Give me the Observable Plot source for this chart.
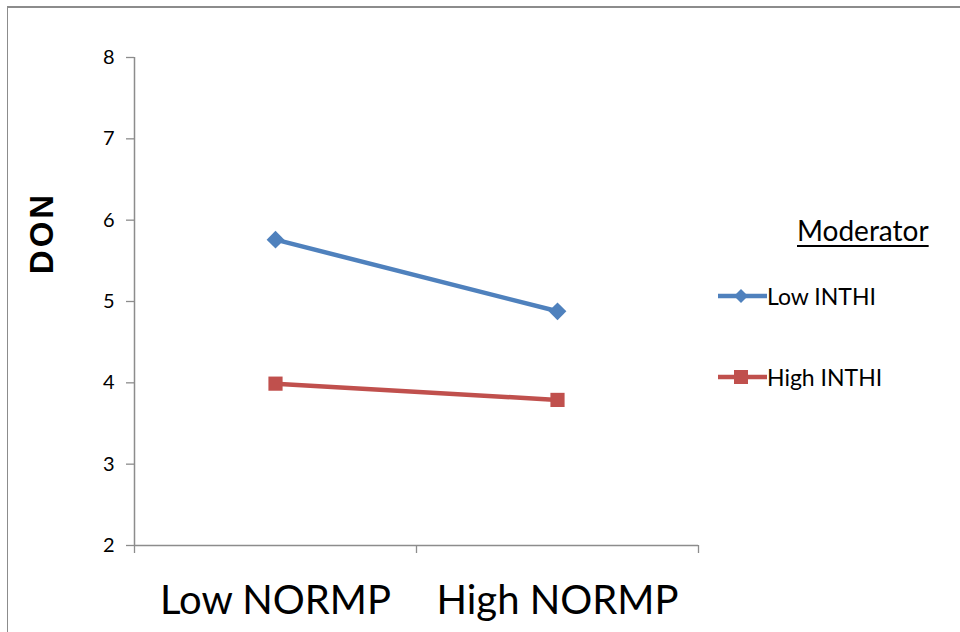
<!DOCTYPE html>
<html>
<head>
<meta charset="utf-8">
<script src="https://cdn.jsdelivr.net/npm/d3@7"></script>
<script src="https://cdn.jsdelivr.net/npm/@observablehq/plot@0.6"></script>
<style>
  html, body { margin: 0; padding: 0; background: #fff; }
  #wrap { position: relative; width: 960px; height: 632px; overflow: hidden; font-family: Lato, "Open Sans", sans-serif; }
  #frame { position: absolute; left: 7px; top: 6px; width: 970px; height: 700px; border-top: 2px solid #8c8c8c; border-left: 1.5px solid #8c8c8c; box-sizing: border-box; pointer-events: none; }
  #ylab { position: absolute; left: 42px; top: 233px; transform: translate(-50%, -50%) rotate(-90deg); font-family: "Liberation Sans", Arial, sans-serif; font-weight: bold; font-size: 33px; letter-spacing: 3px; color: #000; white-space: nowrap; }
  #legend { position: absolute; left: 718px; top: 213px; font-family: Lato, sans-serif; color: #000; }
  #legend .title { position: absolute; left: 79px; top: 0; font-size: 28px; text-decoration: underline; text-underline-offset: 4px; text-decoration-thickness: 2px; white-space: nowrap; }
  #legend .item { position: absolute; left: 0; display: flex; align-items: center; font-size: 23px; white-space: nowrap; }
  #legend svg { display: block; }
  #chart { position: absolute; left: 0; top: 0; }
</style>
</head>
<body>
<div id="wrap">
  <div id="chart"></div>
  <div id="frame"></div>
  <div id="ylab">DON</div>
  <div id="legend"></div>
</div>
<script>
const categories = ["Low NORMP", "High NORMP"];
const seriesNames = ["Low INTHI", "High INTHI"];
const lowINTHI = [5.76, 4.88];
const highINTHI = [3.99, 3.79];
const yTicks = [2, 3, 4, 5, 6, 7, 8];
const colors = ["#4F81BD", "#C0504D"];
const symbols = ["diamond2", "square"];
const legendTitle = "Moderator";
const yLabel = "DON";

const seriesValues = [lowINTHI, highINTHI];
const data = [];
seriesNames.forEach((s, si) => {
  categories.forEach((c, ci) => {
    data.push({series: s, cat: c, idx: ci + 0.5, value: seriesValues[si][ci]});
  });
});
const boundaries = d3.range(categories.length + 1);
const centers = categories.map((c, i) => i + 0.5);

const chart = Plot.plot({
  width: 960,
  height: 632,
  marginLeft: 134,
  marginRight: 262,
  marginTop: 57,
  marginBottom: 87,
  style: {background: "transparent", overflow: "visible"},
  x: {type: "linear", domain: [0, categories.length]},
  y: {domain: [2, 8]},
  color: {domain: seriesNames, range: colors},
  symbol: {domain: seriesNames, range: symbols},
  marks: [
    Plot.axisY({ticks: yTicks, tickSize: 8, tickFormat: () => "", stroke: "#8c8c8c", strokeWidth: 1.3, label: null}),
    Plot.text(yTicks, {x: 0, y: d => d, text: d => String(d), textAnchor: "end", dx: -20, fontSize: 20, fill: "#000", fontFamily: "Lato, sans-serif"}),
    Plot.axisX({ticks: boundaries, tickSize: 8, tickFormat: () => "", stroke: "#8c8c8c", strokeWidth: 1.3, label: null}),
    Plot.axisX({ticks: centers, tickSize: 0, tickPadding: 40, fontSize: 40, fill: "#000", fontFamily: "Lato, sans-serif", tickFormat: d => categories[Math.floor(d)], label: null}),
    Plot.ruleX([0], {stroke: "#8c8c8c", strokeWidth: 1.5}),
    Plot.ruleY([2], {stroke: "#8c8c8c", strokeWidth: 1.5}),
    Plot.line(data, {x: "idx", y: "value", z: "series", stroke: "series", strokeWidth: 4.5}),
    Plot.dot(data, {x: "idx", y: "value", symbol: "series", fill: "series", stroke: "none", r: 8})
  ]
});
document.getElementById("chart").appendChild(chart);
document.getElementById("ylab").textContent = yLabel;

const legend = document.getElementById("legend");
const t = document.createElement("div");
t.className = "title";
t.textContent = legendTitle;
legend.appendChild(t);
const itemTops = [69, 150];
seriesNames.forEach((s, i) => {
  const it = document.createElement("div");
  it.className = "item";
  it.style.top = itemTops[i] + "px";
  const sw = i === 0
    ? `<svg width="49" height="20"><line x1="0" y1="10" x2="49" y2="10" stroke="${colors[i]}" stroke-width="4.5"/><path d="M23 3 L30 10 L23 17 L16 10 Z" fill="${colors[i]}"/></svg>`
    : `<svg width="49" height="20"><line x1="0" y1="10" x2="49" y2="10" stroke="${colors[i]}" stroke-width="4.5"/><rect x="16" y="3" width="14" height="14" fill="${colors[i]}"/></svg>`;
  it.innerHTML = sw + `<span>${s}</span>`;
  legend.appendChild(it);
});
</script>
</body>
</html>
